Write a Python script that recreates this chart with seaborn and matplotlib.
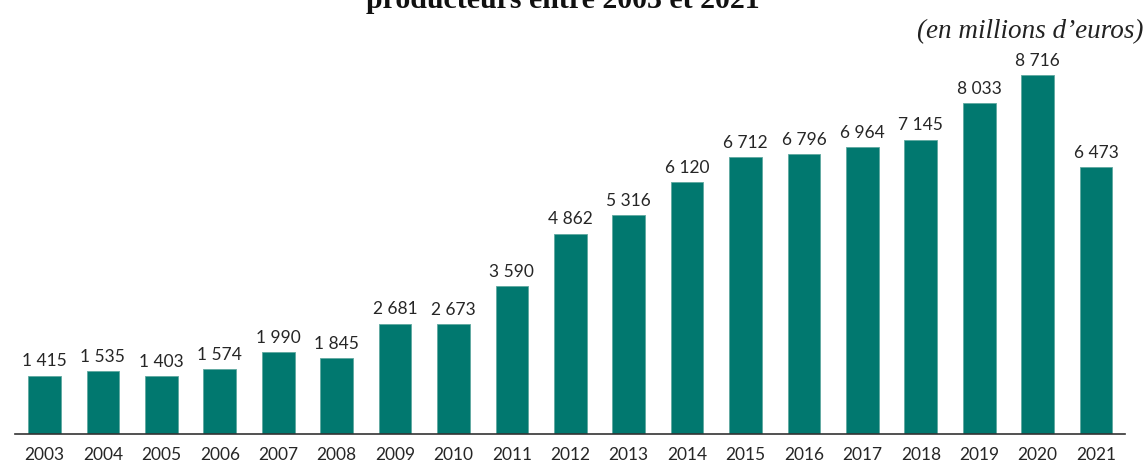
import matplotlib
matplotlib.use("Agg")
import matplotlib.pyplot as plt
import seaborn as sns
import pandas as pd

years = ["2003", "2004", "2005", "2006", "2007", "2008", "2009", "2010", "2011",
         "2012", "2013", "2014", "2015", "2016", "2017", "2018", "2019", "2020", "2021"]
values = [1415, 1535, 1403, 1574, 1990, 1845, 2681, 2673, 3590,
          4862, 5316, 6120, 6712, 6796, 6964, 7145, 8033, 8716, 6473]
title = "producteurs entre 2003 et 2021"
unit_note = "(en millions d\u2019euros)"

sns.set_theme(style="white")
plt.rcParams["font.family"] = ["Lato", "DejaVu Sans"]

df = pd.DataFrame({"year": years, "value": values})

fig = plt.figure(figsize=(11.47, 4.62), dpi=100)
ax = fig.add_axes([0.01334, 0.0606, 0.9677, 0.8026])

sns.barplot(data=df, x="year", y="value", color="#01786F", saturation=1,
            width=0.56, ax=ax, edgecolor="#5fa8a0", linewidth=0.6)

ax.set_xlim(-0.5, len(years) - 0.5)
ax.set_ylim(0, 9000)
ax.set_xlabel("")
ax.set_ylabel("")
ax.set_yticks([])
for side in ["left", "right", "top"]:
    ax.spines[side].set_visible(False)
ax.spines["bottom"].set_color("#333333")
ax.spines["bottom"].set_linewidth(1.2)
ax.tick_params(axis="x", length=0, pad=9.5, labelsize=12.5, labelcolor="#262626")

for i, v in enumerate(values):
    label = f"{v:,}".replace(",", " ")
    ax.annotate(label, (i, v), xytext=(0, 4.5), textcoords="offset points",
                ha="center", va="bottom", fontsize=12.5, color="#262626")

# Title sits at the very top edge, partly above the canvas
fig.text(0.491, (462 - 8) / 462, title, ha="center", va="baseline",
         fontsize=21.5, fontweight="bold", family=["Liberation Serif", "DejaVu Serif"],
         color="#111111")
fig.text(0.997, (462 - 38) / 462, unit_note, ha="right", va="baseline",
         fontsize=19.5, style="italic", family=["Liberation Serif", "DejaVu Serif"],
         color="#222222")

fig.savefig("out.png", dpi=100, facecolor="white")
